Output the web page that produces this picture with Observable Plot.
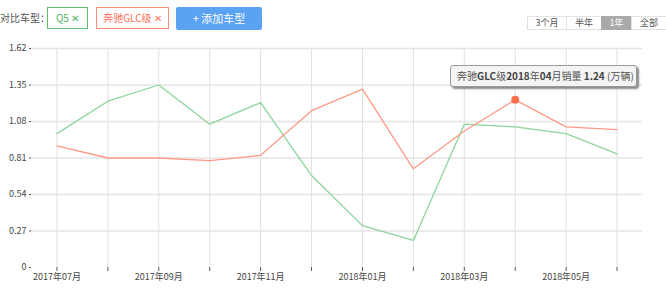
<!DOCTYPE html>
<html><head><meta charset="utf-8">
<script src="https://cdn.jsdelivr.net/npm/d3@7"></script>
<script src="https://cdn.jsdelivr.net/npm/@observablehq/plot@0.6"></script>
<style>
body{margin:0;background:#fff;font-family:"Noto Sans CJK SC","Noto Sans",sans-serif;}
#wrap{position:relative;width:666px;height:288px;overflow:hidden;}
#chart{position:absolute;left:0;top:0;}
.abs{position:absolute;box-sizing:border-box;}
.lbl{left:0px;top:10px;font-size:10px;color:#555;line-height:16px;}
.tag{top:7px;height:22px;font-size:10px;line-height:20px;text-align:center;background:#fff;}
.g{left:47px;width:41px;border:1px solid #5cbf6a;color:#4cb55c;}
.r{left:96px;width:73px;border:1px solid #ff8c78;color:#ff6f58;}
.btn{left:176px;top:7px;width:86px;height:23px;background:#5aa2f2;color:#fff;font-size:11px;line-height:23px;text-align:center;border-radius:2px;}
.seg{top:16px;height:14px;font-size:9px;line-height:12px;text-align:center;border:1px solid #e2e2e2;color:#555;background:#fff;}
.tip{left:450px;top:65px;width:187px;height:22px;background:#f4f4f4;border:1px solid #9a9a9a;border-radius:3px;box-shadow:2px 2px 2px #8a8a8a;font-size:10px;line-height:20px;color:#555;white-space:nowrap;padding-left:6px;}
.tip b{color:#444;}
</style></head>
<body>
<div id="wrap">
<div id="chart"></div>
<div class="abs lbl">对比车型：</div>
<div class="abs tag g">Q5 ✕</div>
<div class="abs tag r">奔驰GLC级 ✕</div>
<div class="abs btn">+ 添加车型</div>
<div class="abs seg" style="left:527px;width:40px;">3个月</div>
<div class="abs seg" style="left:566px;width:36px;">半年</div>
<div class="abs seg" style="left:601px;width:31px;background:#a9a9a9;border-color:#a9a9a9;color:#fff;">1年</div>
<div class="abs seg" style="left:631px;width:36px;">全部</div>
<div class="abs tip">奔驰<b>GLC</b>级<b>2018</b>年<b>04</b>月销量 <b>1.24</b> (万辆)</div>
</div>
<script>
const months = ["2017年07月","2017年08月","2017年09月","2017年10月","2017年11月","2017年12月","2018年01月","2018年02月","2018年03月","2018年04月","2018年05月","2018年06月"];
const q5 = [0.99,1.23,1.35,1.06,1.22,0.68,0.31,0.20,1.06,1.04,0.99,0.84];
const glc = [0.90,0.81,0.81,0.79,0.83,1.16,1.32,0.73,1.01,1.24,1.04,1.02];
const yTicks = [0,0.27,0.54,0.81,1.08,1.35,1.62];
const highlightIndex = 9;

const q5Rows = months.map((m,i)=>({month:m,value:q5[i]}));
const glcRows = months.map((m,i)=>({month:m,value:glc[i]}));
const font = '"Noto Sans CJK SC","Noto Sans",sans-serif';

const chart = Plot.plot({
  width:666, height:288,
  marginTop:48, marginBottom:21, marginLeft:31, marginRight:24,
  style:{fontFamily:font, fontSize:"9px", color:"#444", background:"transparent"},
  x:{type:"point", domain:months, padding:0.5, round:false},
  y:{domain:[0,1.62]},
  marks:[
    Plot.gridX(months,{stroke:"#e0e0e0", strokeOpacity:1}),
    Plot.gridY(yTicks.slice(1),{stroke:"#e4e4e4", strokeOpacity:1, strokeWidth:1.5}),
    Plot.axisY({ticks:yTicks, tickFormat:d=>d===0?"0":d.toFixed(2), tickSize:2, tickPadding:3, line:true, stroke:"#555", label:null, fill:"#444"}),
    Plot.axisX({ticks:months, tickFormat:d=>months.indexOf(d)%2===0?d:"", tickSize:4, tickPadding:2, line:true, stroke:"#555", label:null, fill:"#444"}),
    Plot.line(q5Rows,{x:"month", y:"value", stroke:"#8dd49b", strokeWidth:1.3}),
    Plot.line(glcRows,{x:"month", y:"value", stroke:"#ff9a86", strokeWidth:1.3}),
    Plot.dot([glcRows[highlightIndex]],{x:"month", y:"value", r:4, fill:"#ff7052", stroke:"none"})
  ]
});
document.getElementById("chart").appendChild(chart);
</script>
</body></html>
